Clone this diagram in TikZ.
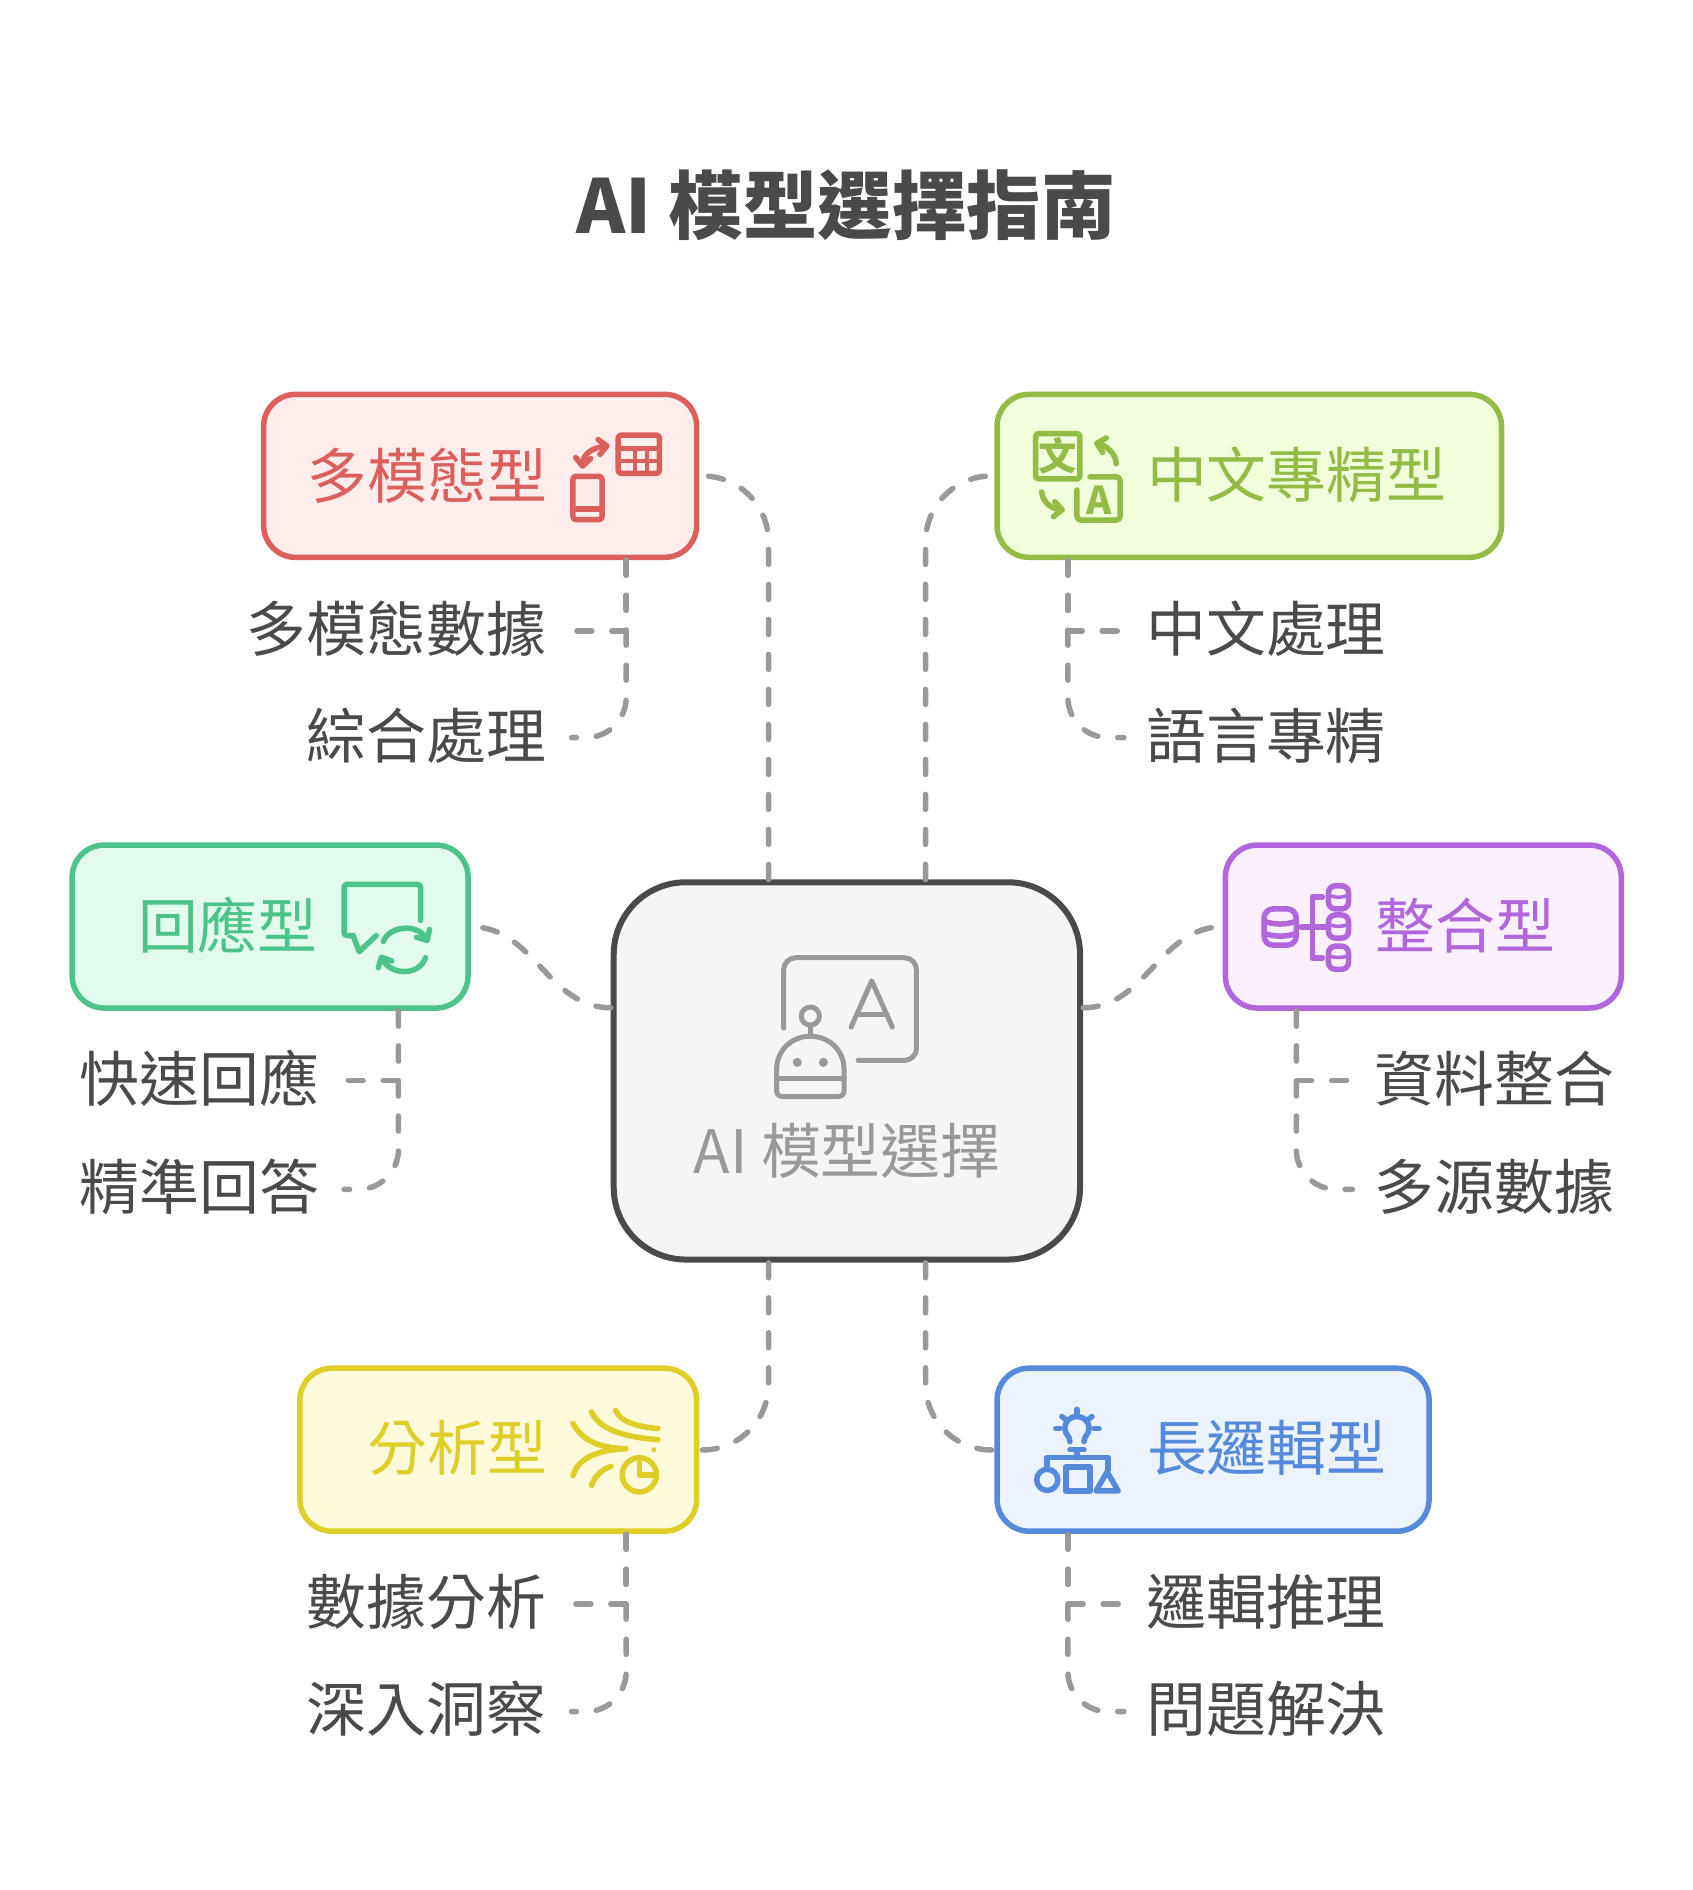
\documentclass[tikz,border=0pt]{standalone}
\usepackage{fontspec}
\setmainfont{Noto Sans CJK TC}
\usepackage{xcolor}
\usetikzlibrary{arrows.meta}
\definecolor{inkGray}{HTML}{4A4A4A}
\definecolor{connGray}{HTML}{999999}
\definecolor{coreFill}{HTML}{F5F5F5}
\definecolor{redLine}{HTML}{DB5F5B}
\definecolor{redFill}{HTML}{FFEDEB}
\definecolor{limeLine}{HTML}{93BB46}
\definecolor{limeFill}{HTML}{F1FDDB}
\definecolor{tealLine}{HTML}{4CC38A}
\definecolor{tealFill}{HTML}{E3FBEE}
\definecolor{violetLine}{HTML}{B266DB}
\definecolor{violetFill}{HTML}{FAF0FF}
\definecolor{goldLine}{HTML}{E0CE28}
\definecolor{goldFill}{HTML}{FEFADB}
\definecolor{blueLine}{HTML}{5589DB}
\definecolor{blueFill}{HTML}{EBF3FE}
\tikzset{
    typebox/.style 2 args={draw=#1, fill=#2, line width=5.5pt, rounded corners=32pt, minimum height=162pt},
    conn/.style={draw=connGray, line width=5.5pt, line cap=round, dash pattern=on 15pt off 20pt},
    icon/.style={draw=#1, line width=5.5pt, line cap=round, line join=round},
    barb/.style={-{Straight Barb[length=8pt,width=15pt,round]}},
    cjk/.style={inner sep=0pt, text height=53pt, text depth=12pt, font=\fontsize{59.5}{72}\selectfont},
    itemleft/.style={cjk, text=inkGray, anchor=east, outer sep=25pt},
    itemright/.style={cjk, text=inkGray, anchor=west, outer sep=22.5pt},
    glyph/.style={inner sep=0pt, font=\fontsize{38}{44}\selectfont\bfseries, text=limeLine},
}
\begin{document}
\begin{tikzpicture}[x=1pt, y=-1pt, scale=1.006, transform shape]
    \useasboundingbox (0, 0) rectangle (1681.9, 1878.7);
    \node [inner sep=0pt, text=inkGray, font=\fontsize{74}{88}\selectfont\bfseries] (title) at (841, 204) {AI 模型選擇指南};
    % boxes
    \node [typebox={inkGray}{coreFill}, line width=6pt, rounded corners=72pt, minimum width=463.5pt, minimum height=375pt] (core) at (841.8, 1064.5) {};
    \node [typebox={redLine}{redFill}, minimum width=430.5pt] (multi) at (477.3, 473) {};
    \node [typebox={limeLine}{limeFill}, minimum width=501.5pt] (chinese) at (1241.8, 473) {};
    \node [typebox={tealLine}{tealFill}, minimum width=393.5pt] (reply) at (268.5, 921) {};
    \node [typebox={violetLine}{violetFill}, minimum width=393.5pt] (merge) at (1414.8, 921) {};
    \node [typebox={goldLine}{goldFill}, minimum width=394.5pt] (analysis) at (495.3, 1441) {};
    \node [typebox={blueLine}{blueFill}, minimum width=429.5pt] (logic) at (1205.8, 1441) {};
    % box labels
    \node [cjk, text=connGray] (coreLabel) at (842, 1146) {AI 模型選擇};
    \node [cjk, text=redLine, anchor=east] (multiLabel) at (544, 475) {多模態型};
    \node [cjk, text=limeLine, anchor=west] (chineseLabel) at (1140, 474) {中文專精型};
    \node [cjk, text=tealLine, anchor=east] (replyLabel) at (316, 922.5) {回應型};
    \node [cjk, text=violetLine, anchor=west] (mergeLabel) at (1367.5, 922) {整合型};
    \node [cjk, text=goldLine, anchor=east] (analysisLabel) at (544, 1441) {分析型};
    \node [cjk, text=blueLine, anchor=west] (logicLabel) at (1140, 1441) {長邏輯型};
    % items
    \node [itemleft] (multiA) at (568, 627) {多模態數據};
    \node [itemleft] (multiB) at (568, 733) {綜合處理};
    \node [itemright] (chineseA) at (1117, 627) {中文處理};
    \node [itemright] (chineseB) at (1117, 733) {語言專精};
    \node [itemleft] (replyA) at (342, 1074) {快速回應};
    \node [itemleft] (replyB) at (342, 1182) {精準回答};
    \node [itemright] (mergeA) at (1344, 1074) {資料整合};
    \node [itemright] (mergeB) at (1344, 1182) {多源數據};
    \node [itemleft] (analysisA) at (568, 1594) {數據分析};
    \node [itemleft] (analysisB) at (568, 1701) {深入洞察};
    \node [itemright] (logicA) at (1117, 1594) {邏輯推理};
    \node [itemright] (logicB) at (1117, 1701) {問題解決};
    % core to boxes
    \draw [conn, rounded corners=66pt] ([xshift=-78pt]core.north) |- (multi.east);
    \draw [conn, rounded corners=66pt] ([xshift=78pt]core.north) |- (chinese.west);
    \draw [conn] ([yshift=63pt]core.west) to[out=180, in=0] (reply.east);
    \draw [conn] ([yshift=63pt]core.east) to[out=0, in=180] (merge.west);
    \draw [conn, rounded corners=66pt] ([xshift=-78pt]core.south) |- (analysis.east);
    \draw [conn, rounded corners=66pt] ([xshift=78pt]core.south) |- (logic.west);
    % boxes to items
    \draw [conn] ([xshift=-73pt]multi.south east) |- (multiA.east);
    \draw [conn, rounded corners=40pt] ([xshift=-73pt]multi.south east) |- (multiB.east);
    \draw [conn] ([xshift=73pt]chinese.south west) |- (chineseA.west);
    \draw [conn, rounded corners=40pt] ([xshift=73pt]chinese.south west) |- (chineseB.west);
    \draw [conn] ([xshift=-72pt]reply.south east) |- (replyA.east);
    \draw [conn, rounded corners=40pt] ([xshift=-72pt]reply.south east) |- (replyB.east);
    \draw [conn] ([xshift=73pt]merge.south west) |- (mergeA.west);
    \draw [conn, rounded corners=40pt] ([xshift=73pt]merge.south west) |- (mergeB.west);
    \draw [conn] ([xshift=-73pt]analysis.south east) |- (analysisA.east);
    \draw [conn, rounded corners=40pt] ([xshift=-73pt]analysis.south east) |- (analysisB.east);
    \draw [conn] ([xshift=73pt]logic.south west) |- (logicA.west);
    \draw [conn, rounded corners=40pt] ([xshift=73pt]logic.south west) |- (logicB.west);
    % core icon
    \draw [icon=connGray, line width=5pt, rounded corners=12pt] (779, 1022) -- (779, 952) -- (911, 952) -- (911, 1054) -- (853, 1054);
    \draw [icon=connGray, line width=5pt] (846, 1021) -- (866.5, 975) -- (887, 1021);
    \draw [icon=connGray, line width=5pt] (852, 1008) -- (882, 1008);
    \draw [icon=connGray, line width=5pt] (805.5, 1010) circle (9);
    \draw [icon=connGray, line width=5pt] (805.5, 1019) -- (805.5, 1030);
    \draw [icon=connGray, line width=5pt] (779, 1090) .. controls (774, 1090) and (772, 1088) .. (772, 1084) -- (772, 1063) .. controls (772, 1043) and (788, 1030) .. (805.5, 1030) .. controls (823, 1030) and (839, 1043) .. (839, 1063) -- (839, 1084) .. controls (839, 1088) and (837, 1090) .. (832, 1090) -- cycle;
    \draw [icon=connGray, line width=5pt] (772, 1072) -- (839, 1072);
    \fill [connGray] (792.5, 1056) circle (4.5);
    \fill [connGray] (818.5, 1056) circle (4.5);
    % multi icon
    \draw [icon=redLine, rounded corners=3pt] (569.5, 473.5) rectangle (598.5, 516.5);
    \draw [icon=redLine] (569.5, 506) -- (598.5, 506);
    \draw [icon=redLine, rounded corners=3pt] (614.5, 432.5) rectangle (655.5, 470.5);
    \draw [icon=redLine] (614.5, 446) -- (655.5, 446);
    \draw [icon=redLine, line width=3.5pt] (614.5, 458) -- (655.5, 458);
    \draw [icon=redLine, line width=3.5pt] (631, 446) -- (631, 470);
    \draw [icon=redLine, line width=3.5pt] (643, 446) -- (643, 470);
    \draw [icon=redLine, {Straight Barb[length=8pt,width=15pt,round]}-{Straight Barb[length=8pt,width=15pt,round]}] (579, 466) .. controls (580, 450) and (590, 445) .. (606, 443);
    % chinese icon
    \begin{scope}[xshift=-3.5pt]
        \draw [icon=limeLine, rounded corners=3pt] (1033, 431) rectangle (1077, 476);
        \node [glyph] (chineseGlyphA) at (1055, 453) {文};
        \draw [icon=limeLine, rounded corners=4pt] (1087, 474) -- (1117, 474) -- (1117, 517) -- (1074, 517) -- (1074, 487);
        \node [glyph] (chineseGlyphB) at (1096, 497) {A};
        \draw [icon=limeLine, barb] (1113, 461) .. controls (1113, 451) and (1103, 443) .. (1091, 440);
        \draw [icon=limeLine, barb] (1039, 489) .. controls (1040, 500) and (1050, 506) .. (1062, 507);
    \end{scope}
    % reply icon
    \draw [icon=tealLine, rounded corners=3pt] (418, 915) -- (418, 879) -- (342, 879) -- (342, 930) -- (351, 930);
    \draw [icon=tealLine] (351, 930) -- (357, 946) -- (374, 930);
    \draw [icon=tealLine, barb] (381, 936) .. controls (386, 921) and (414, 917) .. (426, 937);
    \draw [icon=tealLine, barb] (423, 952) .. controls (416, 971) and (388, 969) .. (378, 949);
    % merge icon
    \begin{scope}[xshift=-4.5pt, yshift=1.5pt]
        \draw [icon=violetLine, rounded corners=9pt] (1261, 905) rectangle (1293, 941);
        \draw [icon=violetLine] (1261, 917) .. controls (1270, 921) and (1284, 921) .. (1293, 917);
        \draw [icon=violetLine] (1261, 929) .. controls (1270, 933) and (1284, 933) .. (1293, 929);
        \draw [icon=violetLine] (1319, 893) -- (1309, 893) -- (1309, 954) -- (1319, 954);
        \draw [icon=violetLine] (1298, 923) -- (1322, 923);
        \foreach \stackY in {882, 911, 942} {
            \draw [icon=violetLine, rounded corners=7pt] (1325, \stackY) rectangle (1345, \stackY+23);
            \draw [icon=violetLine, line width=3.5pt] (1325, \stackY+9) .. controls (1330, \stackY+12) and (1340, \stackY+12) .. (1345, \stackY+9);
        }
    \end{scope}
    % analysis icon
    \begin{scope}[xshift=-1pt, yshift=2pt]
        \draw [icon=goldLine] (570.5, 1417) .. controls (582, 1437) and (600, 1441) .. (623, 1442);
        \draw [icon=goldLine] (570.5, 1469) .. controls (576, 1449) and (600, 1443) .. (623, 1442);
        \draw [icon=goldLine] (589, 1405.5) .. controls (597, 1424) and (625, 1431) .. (655, 1433);
        \draw [icon=goldLine] (613, 1404) .. controls (618, 1416) and (635, 1420) .. (655, 1422);
        \draw [icon=goldLine] (589, 1478.5) .. controls (592, 1470) and (598, 1463) .. (608.5, 1459.5);
        \fill [goldLine] (651, 1443) circle (2.5);
        \draw [icon=goldLine] (636.5, 1468) circle (17);
        \draw [icon=goldLine] (636.5, 1456) -- (636.5, 1468) -- (653, 1468);
    \end{scope}
    % logic icon
    \begin{scope}[xshift=-4.5pt, yshift=3pt]
        \draw [icon=blueLine] (1068, 1436) .. controls (1068, 1430) and (1063, 1429) .. (1063, 1423) .. controls (1063, 1407) and (1087, 1407) .. (1087, 1423) .. controls (1087, 1429) and (1082, 1430) .. (1082, 1436);
        \foreach \rayAx/\rayAy/\rayBx/\rayBy in {1075/1404/1075/1409, 1060/1411/1064/1414, 1090/1411/1086/1414, 1054/1423/1058/1423, 1092/1423/1097/1423} {
            \draw [icon=blueLine] (\rayAx, \rayAy) -- (\rayBx, \rayBy);
        }
        \draw [icon=blueLine] (1068, 1444) -- (1082, 1444);
        \draw [icon=blueLine] (1075, 1444) -- (1075, 1452);
        \draw [icon=blueLine] (1045, 1462) -- (1045, 1452) -- (1106, 1452) -- (1106, 1464);
        \draw [icon=blueLine] (1045.5, 1474) circle (10.5);
        \draw [icon=blueLine] (1064, 1461) rectangle (1088, 1485);
        \draw [icon=blueLine] (1094, 1485) -- (1105, 1466) -- (1116, 1485) -- cycle;
    \end{scope}
\end{tikzpicture}
\end{document}
